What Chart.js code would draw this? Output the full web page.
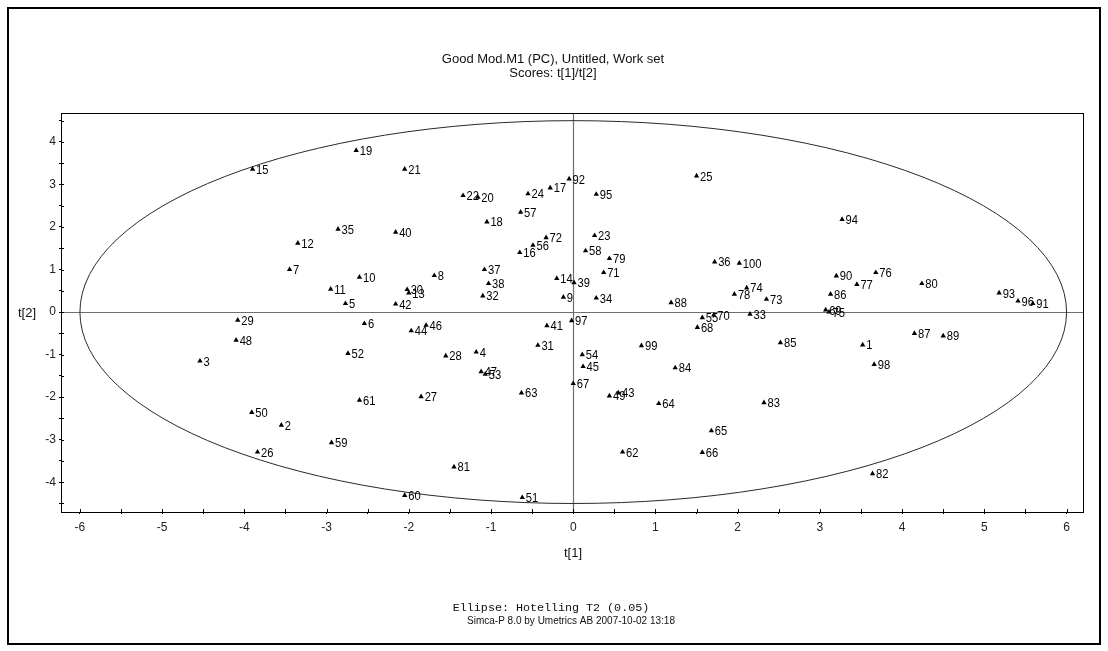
<!DOCTYPE html>
<html>
<head>
<meta charset="utf-8">
<title>Scores t[1]/t[2]</title>
<script src="https://cdn.jsdelivr.net/npm/chart.js@4.4.1/dist/chart.umd.min.js"></script>
<style>
  html, body { margin: 0; padding: 0; background: #fff; }
  #wrap { width: 1108px; height: 651px; }
</style>
</head>
<body>
<div id="wrap"><canvas id="scorePlot" width="1108" height="651"></canvas></div>
<script>
const obsIds = [
  1, 2, 3, 4, 5, 6, 7, 8, 9, 10, 11, 12, 13, 14, 15, 16, 17, 18, 19, 20,
  21, 22, 23, 24, 25, 26, 27, 28, 29, 30, 31, 32, 33, 34, 35, 36, 37, 38, 39, 40,
  41, 42, 43, 44, 45, 46, 47, 48, 49, 50, 51, 52, 53, 54, 55, 56, 57, 58, 59, 60,
  61, 62, 63, 64, 65, 66, 67, 68, 69, 70, 71, 72, 73, 74, 75, 76, 77, 78, 79, 80,
  81, 82, 83, 84, 85, 86, 87, 88, 89, 90, 91, 92, 93, 94, 95, 96, 97, 98, 99, 100
];
const t1 = [
  3.52, -3.55, -4.54, -1.18, -2.77, -2.54, -3.45, -1.69, -0.12, -2.60,
  -2.95, -3.35, -2.00, -0.20, -3.90, -0.65, -0.28, -1.05, -2.64, -1.16,
  -2.05, -1.34, 0.26, -0.55, 1.50, -3.84, -1.85, -1.55, -4.08, -2.02,
  -0.43, -1.10, 2.15, 0.28, -2.86, 1.72, -1.08, -1.03, 0.01, -2.16,
  -0.32, -2.16, 0.55, -1.97, 0.12, -1.79, -1.12, -4.10, 0.44, -3.91,
  -0.62, -2.74, -1.07, 0.11, 1.57, -0.49, -0.64, 0.15, -2.94, -2.05,
  -2.60, 0.60, -0.63, 1.04, 1.68, 1.57, 0.00, 1.51, 3.07, 1.71,
  0.37, -0.33, 2.35, 2.11, 3.11, 3.68, 3.45, 1.96, 0.44, 4.24,
  -1.45, 3.64, 2.32, 1.24, 2.52, 3.13, 4.15, 1.19, 4.50, 3.20,
  5.59, -0.05, 5.18, 3.27, 0.28, 5.41, -0.02, 3.66, 0.83, 2.02
];
const t2 = [
  -0.77, -2.66, -1.15, -0.94, 0.20, -0.27, 1.00, 0.86, 0.35, 0.82,
  0.54, 1.62, 0.45, 0.79, 3.36, 1.40, 2.92, 2.12, 3.80, 2.70,
  3.36, 2.74, 1.80, 2.78, 3.20, -3.29, -1.99, -1.03, -0.19, 0.53,
  -0.78, 0.38, -0.05, 0.33, 1.95, 1.18, 1.00, 0.67, 0.69, 1.88,
  -0.32, 0.19, -1.90, -0.44, -1.28, -0.31, -1.40, -0.66, -1.97, -2.36,
  -4.36, -0.97, -1.46, -1.00, -0.13, 1.57, 2.35, 1.44, -3.07, -4.31,
  -2.07, -3.29, -1.90, -2.15, -2.79, -3.30, -1.68, -0.36, 0.05, -0.07,
  0.93, 1.75, 0.30, 0.57, 0.00, 0.93, 0.65, 0.42, 1.26, 0.67,
  -3.64, -3.80, -2.13, -1.31, -0.72, 0.42, -0.50, 0.22, -0.56, 0.85,
  0.20, 3.13, 0.45, 2.18, 2.77, 0.26, -0.20, -1.23, -0.79, 1.15
];

// Hotelling T2 (0.05) ellipse half-axes in score units
const ellipseT1 = 6.0;
const ellipseT2 = 4.5;

const xTicks = [-6, -5.5, -5, -4.5, -4, -3.5, -3, -2.5, -2, -1.5, -1, -0.5, 0,
  0.5, 1, 1.5, 2, 2.5, 3, 3.5, 4, 4.5, 5, 5.5, 6];
const yTicks = [-4.5, -4, -3.5, -3, -2.5, -2, -1.5, -1, -0.5, 0,
  0.5, 1, 1.5, 2, 2.5, 3, 3.5, 4, 4.5];

const titleLines = ["Good Mod.M1 (PC), Untitled, Work set", "Scores: t[1]/t[2]"];
const ellipseNote = "Ellipse: Hotelling T2 (0.05)";
const footNote = "Simca-P 8.0 by Umetrics AB 2007-10-02 13:18";

const SANS = '"Liberation Sans", Arial, sans-serif';

const points = obsIds.map((id, i) => ({ x: t1[i], y: t2[i], id }));

// squeezed text, the original uses a narrow system font
function narrowText(c, txt, x, y, squeeze) {
  c.save();
  c.translate(x, y);
  c.scale(squeeze, 1);
  c.fillText(txt, 0, 0);
  c.restore();
}

const decorPlugin = {
  id: "decor",
  beforeDraw(chart) {
    const c = chart.ctx;
    c.save();
    c.fillStyle = "#fff";
    c.fillRect(0, 0, chart.width, chart.height);
    c.restore();
  },
  beforeDatasetsDraw(chart) {
    const { ctx: c, chartArea: a, scales } = chart;
    const sx = scales.x, sy = scales.y;
    c.save();
    c.beginPath();
    c.rect(a.left, a.top, a.right - a.left, a.bottom - a.top);
    c.clip();
    // zero lines
    c.strokeStyle = "#6e6e6e";
    c.lineWidth = 1.2;
    c.beginPath();
    c.moveTo(a.left, Math.round(sy.getPixelForValue(0)) + 0.5);
    c.lineTo(a.right, Math.round(sy.getPixelForValue(0)) + 0.5);
    c.moveTo(Math.round(sx.getPixelForValue(0)) + 0.5, a.top);
    c.lineTo(Math.round(sx.getPixelForValue(0)) + 0.5, a.bottom);
    c.stroke();
    // ellipse
    const cx = sx.getPixelForValue(0), cy = sy.getPixelForValue(0);
    const rx = sx.getPixelForValue(ellipseT1) - cx;
    const ry = cy - sy.getPixelForValue(ellipseT2);
    c.strokeStyle = "#2a2a2a";
    c.lineWidth = 1;
    c.beginPath();
    c.ellipse(cx, cy, rx, ry, 0, 0, Math.PI * 2);
    c.stroke();
    // inner half of the tick marks
    c.strokeStyle = "#000";
    c.beginPath();
    xTicks.forEach((v) => {
      const px = Math.round(sx.getPixelForValue(v)) + 0.5;
      c.moveTo(px, a.bottom);
      c.lineTo(px, a.bottom - 3);
    });
    yTicks.forEach((v) => {
      const py = Math.round(sy.getPixelForValue(v)) + 0.5;
      c.moveTo(a.left, py);
      c.lineTo(a.left + 3, py);
    });
    c.stroke();
    c.restore();
  },
  afterDatasetsDraw(chart) {
    const c = chart.ctx;
    const meta = chart.getDatasetMeta(0);
    c.save();
    c.fillStyle = "#000";
    c.font = "13px " + SANS;
    c.textAlign = "left";
    c.textBaseline = "middle";
    meta.data.forEach((el, i) => {
      narrowText(c, String(obsIds[i]), el.x + 3.5, el.y + 1, 0.86);
    });
    c.restore();
  },
  afterDraw(chart) {
    const { ctx: c, chartArea: a } = chart;
    c.save();
    // plot box
    c.strokeStyle = "#000";
    c.lineWidth = 1;
    c.strokeRect(Math.round(a.left) + 0.5, Math.round(a.top) + 0.5,
      Math.round(a.right - a.left), Math.round(a.bottom - a.top));
    // outer frame
    c.lineWidth = 2;
    c.strokeRect(8, 8, 1092, 636);
    c.fillStyle = "#111";
    c.textAlign = "center";
    c.textBaseline = "middle";
    c.font = "13px " + SANS;
    c.fillText(titleLines[0], 553, 59);
    c.fillText(titleLines[1], 553, 73);
    c.fillText("t[1]", 573, 553);
    c.fillText("t[2]", 27, 313);
    c.font = "11.7px 'Liberation Mono', 'Courier New', monospace";
    c.fillText(ellipseNote, 551, 608);
    c.font = "10px " + SANS;
    c.fillText(footNote, 571, 621);
    c.restore();
  }
};

new Chart(document.getElementById("scorePlot").getContext("2d"), {
  type: "scatter",
  data: {
    datasets: [{
      data: points,
      pointStyle: "triangle",
      pointRadius: 3.1,
      pointHoverRadius: 3.1,
      backgroundColor: "#000",
      borderColor: "#000",
      borderWidth: 0
    }]
  },
  options: {
    responsive: false,
    animation: false,
    events: [],
    layout: { padding: { left: 0, top: 113, right: 25, bottom: 99 } },
    plugins: { legend: { display: false }, tooltip: { enabled: false }, title: { display: false } },
    scales: {
      x: {
        type: "linear",
        min: -6.23,
        max: 6.2,
        afterBuildTicks: (s) => { s.ticks = xTicks.map((v) => ({ value: v })); },
        afterFit: (s) => { s.height = 40; },
        ticks: {
          autoSkip: false,
          maxRotation: 0,
          padding: 6,
          color: "#222",
          font: { family: SANS, size: 12 },
          callback: (v) => (Number.isInteger(v) ? String(v) : "")
        },
        grid: { drawOnChartArea: false, drawTicks: true, tickLength: 2, color: "#000" },
        border: { display: true, color: "#000" }
      },
      y: {
        type: "linear",
        min: -4.7,
        max: 4.68,
        afterBuildTicks: (s) => { s.ticks = yTicks.map((v) => ({ value: v })); },
        afterFit: (s) => { s.width = 61; },
        ticks: {
          autoSkip: false,
          padding: 3,
          color: "#222",
          font: { family: SANS, size: 12 },
          callback: (v) => (Number.isInteger(v) ? String(v) : "")
        },
        grid: { drawOnChartArea: false, drawTicks: true, tickLength: 2, color: "#000" },
        border: { display: true, color: "#000" }
      }
    }
  },
  plugins: [decorPlugin]
});
</script>
</body>
</html>
